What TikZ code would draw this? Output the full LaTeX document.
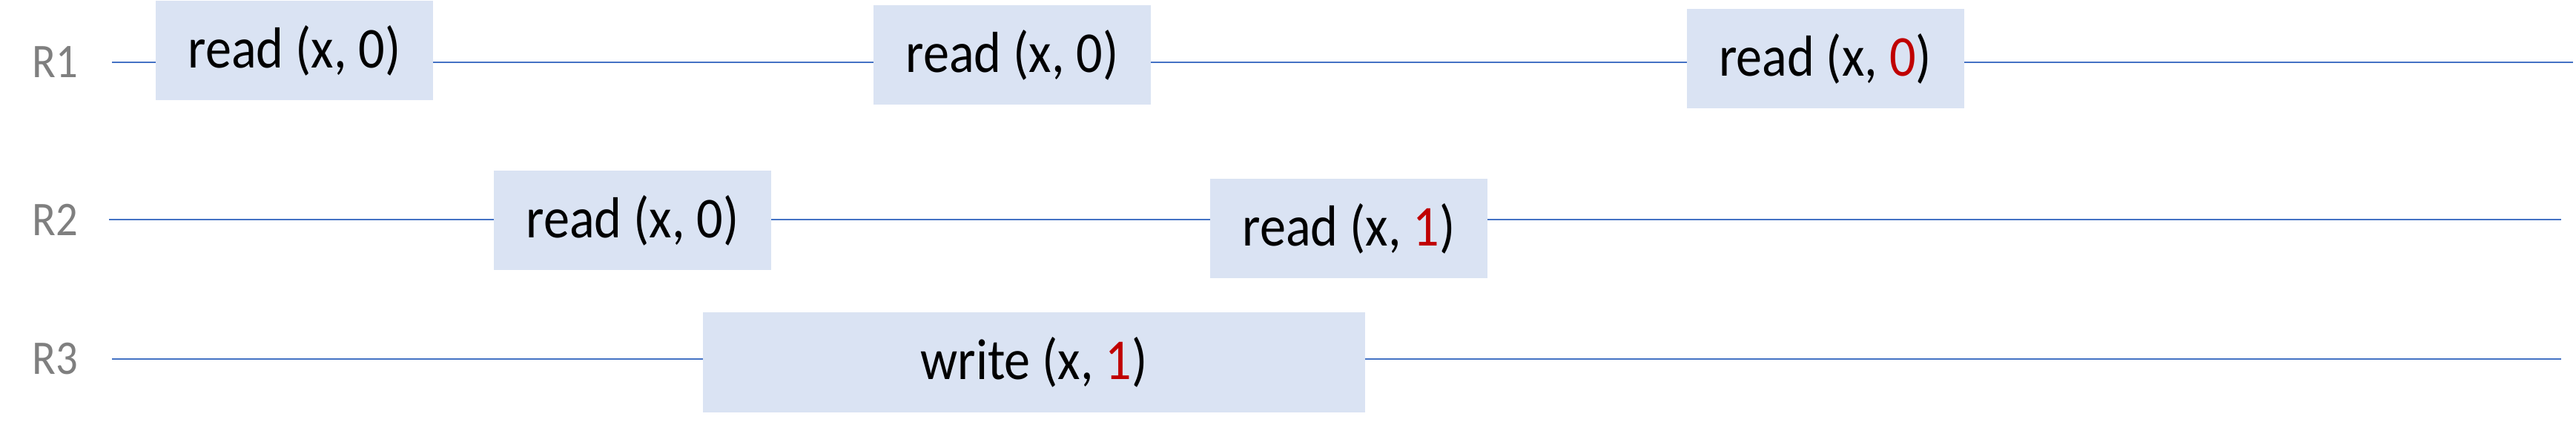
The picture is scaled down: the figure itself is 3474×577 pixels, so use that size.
\documentclass[tikz,border=0pt]{standalone}
\usepackage{fontspec}
\setmainfont{Carlito}
\newfontfamily\opfont{Carlito}[FakeStretch=0.9]
\definecolor{lineblue}{HTML}{4472C4}
\definecolor{boxfill}{HTML}{DAE3F3}
\definecolor{valred}{HTML}{C00000}
\definecolor{labgray}{HTML}{7F7F7F}
\begin{document}
\begin{tikzpicture}[x=0.25pt,y=-0.25pt,
  op/.style={rectangle,fill=boxfill,inner sep=0pt,minimum width=374*0.25pt,minimum height=134*0.25pt,font=\opfont\fontsize{19.5}{23}\selectfont,text=black},
  lane/.style={draw=lineblue,line width=0.55pt},
  rlabel/.style={anchor=west,inner sep=0pt,text=labgray,font=\opfont\fontsize{16.3}{19}\selectfont}]
\useasboundingbox (0,0) rectangle (3474,577);
% lane end points
\coordinate (s1) at (151,84);   \coordinate (e1) at (3470,84);
\coordinate (s2) at (147,296);  \coordinate (e2) at (3454,296);
\coordinate (s3) at (151,484);  \coordinate (e3) at (3454,484);
\draw[lane] (s1) -- (e1);
\draw[lane] (s2) -- (e2);
\draw[lane] (s3) -- (e3);
% labels
\node[rlabel] (r1) at (43,84) {R1};
\node[rlabel] (r2) at (43,296) {R2};
\node[rlabel] (r3) at (43,484) {R3};
% operations
\node[op] (a1) at (397,68) {read (x, 0)};
\node[op] (a2) at (1365,74) {read (x, 0)};
\node[op] (a3) at (2461.5,79) {read (x, \textcolor{valred}{0})};
\node[op] (b1) at (853,297) {read (x, 0)};
\node[op] (b2) at (1819,308) {read (x, \textcolor{valred}{1})};
\node[op,minimum width=893*0.25pt,minimum height=135*0.25pt] (c1) at (1394.5,488.5) {write (x, \textcolor{valred}{1})};
\end{tikzpicture}
\end{document}
